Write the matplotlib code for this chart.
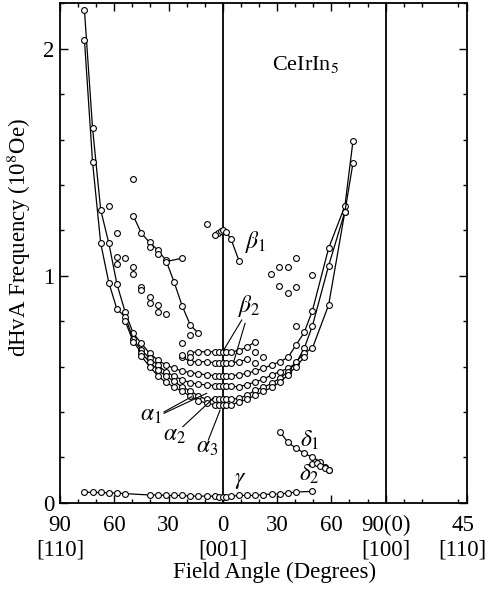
import matplotlib
matplotlib.use("Agg")
import matplotlib.pyplot as plt
from matplotlib.ticker import MultipleLocator, FixedLocator
from matplotlib.transforms import ScaledTranslation

plt.rcParams['font.family'] = ['Liberation Serif', 'DejaVu Serif']
plt.rcParams['mathtext.fontset'] = 'stix'

# ---- data (angle in degrees: [110]=-90 ... [001]=0 ... [100]=90 ... [110]=135) ----
a1a_ang = [-76.5, -72, -67.5, -63, -58.5, -54, -49.5, -45, -40.5, -36, -31.5, -27, -22.5, -18, -13.5, -9, -4.5, -2, 0,
           2, 4.5, 9, 13.5, 18, 22.5, 27, 31.5, 36, 40.5, 45, 49.5, 58.5, 67.5, 72]
a1a_F = [2.17, 1.65, 1.29, 1.143, 0.962, 0.841, 0.746, 0.702, 0.658, 0.629, 0.607, 0.592, 0.58, 0.573, 0.568, 0.563, 0.56, 0.558, 0.558,
         0.558, 0.56, 0.563, 0.57, 0.581, 0.592, 0.607, 0.621, 0.64, 0.695, 0.75, 0.845, 1.121, 1.307, 1.595]

a1b_ang = [-76.5, -72, -67.5, -63, -58.5, -54, -49.5, -45, -40.5, -36, -31.5, -27, -22.5, -18, -13.5, -9, -4.5, -2, 0,
           2, 4.5, 9, 13.5, 18, 22.5, 27, 31.5, 36, 40.5, 45, 49.5, 58.5, 67.5, 72]
a1b_F = [2.04, 1.50, 1.143, 0.969, 0.852, 0.82, 0.72, 0.673, 0.636, 0.607, 0.577, 0.558, 0.541, 0.529, 0.522, 0.519, 0.516, 0.514, 0.514,
         0.514, 0.512, 0.511, 0.52, 0.533, 0.544, 0.563, 0.577, 0.592, 0.614, 0.68, 0.778, 1.044, 1.282, 1.498]

a2_ang = [-54, -49.5, -45, -40.5, -36, -31.5, -27, -22.5, -18, -13.5, -9, -4.5, -2, 0,
          2, 4.5, 9, 13.5, 18, 22.5, 27, 31.5, 36, 40.5, 45, 49.5, 58.5, 67.5]
a2_F = [0.80, 0.71, 0.66, 0.62, 0.585, 0.558, 0.535, 0.51, 0.493, 0.47, 0.455, 0.455, 0.455, 0.455,
        0.455, 0.455, 0.46, 0.474, 0.496, 0.508, 0.526, 0.548, 0.577, 0.62, 0.66, 0.68, 0.871, 1.282]

a3_ang = [-45, -40.5, -36, -31.5, -27, -22.5, -18, -13.5, -9, -4.5, -2, 0,
          2, 4.5, 9, 13.5, 18, 22.5, 27, 31.5, 36, 40.5, 45]
a3_F = [0.645, 0.60, 0.56, 0.53, 0.51, 0.49, 0.47, 0.45, 0.438, 0.432, 0.43, 0.43,
        0.43, 0.43, 0.445, 0.455, 0.474, 0.49, 0.508, 0.53, 0.563, 0.60, 0.64]

b2a_ang = [-18, -13.5, -9, -4.5, -2, 0, 2, 4.5, 9, 13.5, 18]
b2a_F = [0.661, 0.665, 0.665, 0.665, 0.665, 0.665, 0.665, 0.665, 0.67, 0.687, 0.709]

b2b_ang = [-22.5, -18, -13.5, -9, -4.5, -2, 0, 2, 4.5, 9, 13.5]
b2b_F = [0.643, 0.621, 0.621, 0.621, 0.617, 0.614, 0.614, 0.614, 0.617, 0.621, 0.632]

bL_ang = [-49.5, -45, -40.5, -36, -31.5, -27, -22.5, -18, -13.5]
bL_F = [1.264, 1.187, 1.147, 1.113, 1.069, 0.974, 0.868, 0.783, 0.746]

bB_ang = [-31.5, -22.5]
bB_F = [1.062, 1.077]

b1_ang = [-2.5, -1, 0, 1.8, 4.6, 9]
b1_F = [1.19, 1.198, 1.2, 1.194, 1.16, 1.065]

g_ang = [-76.5, -72, -67.5, -63, -58.5, -54, -40.5, -36, -31.5, -27, -22.5, -18, -13.5, -9, -4.5, -2, 0,
         2, 4.5, 9, 13.5, 18, 22.5, 27, 31.5, 36, 40.5, 49.5]
g_F = [0.047, 0.045, 0.045, 0.043, 0.043, 0.04, 0.034, 0.034, 0.032, 0.032, 0.032, 0.029, 0.029, 0.029, 0.029, 0.027, 0.027,
       0.027, 0.029, 0.032, 0.032, 0.032, 0.036, 0.038, 0.038, 0.043, 0.047, 0.05]

d1_ang = [31.5, 36, 40.5, 45, 49.5, 54, 56.5, 58.5]
d1_F = [0.313, 0.266, 0.24, 0.218, 0.2, 0.181, 0.159, 0.145]

d2_ang = [49.5, 52, 54, 56.5, 58.5]
d2_F = [0.169, 0.173, 0.161, 0.151, 0.145]

sc_ang = [-63, -58.5, -58.5, -58.5, -54, -49.5, -49.5, -45, -45, -40.5, -40.5, -36, -36, -31.5, -49.5, -9, -4.3,
          -40.5, -36, -22.5, -18, -22.5, -18,
          26.7, 31.3, 36, 40.6, 31.3, 36, 40.6, 49.4, 40.6, 18, 22.5, 18]
sc_F = [1.308, 1.189, 1.084, 1.05, 1.079, 1.037, 1.007, 0.952, 0.937, 0.907, 0.881, 0.871, 0.839, 0.831, 1.425, 1.228, 1.179,
        1.127, 1.095, 0.705, 0.738, 0.651, 0.64,
        1.007, 1.037, 1.04, 1.079, 0.955, 0.924, 0.952, 1.004, 0.778, 0.665, 0.64, 0.617]

xtick_pos = [-90, -60, -30, 0, 30, 60, 90, 135]
xtick_lab = ['90\n[110]', '60', '30', '0\n[001]', '30', '60', '90(0)\n[100]', '']
last_lab = '45\n[110]'
last_lab_pos = 132.7
ytick_pos = [0, 1, 2]
ytick_lab = ['0', '1', '2']

# ---- figure ----
fig = plt.figure(figsize=(4.89, 5.89), dpi=100)
ax = fig.add_axes([0.1227, 0.1465, 0.955 - 0.1227, 0.9944 - 0.1465])
ax.set_xlim(-90, 135)
ax.set_ylim(0, 2.2)

mk = dict(marker='o', ms=4.2, mfc='white', mec='black', mew=0.8, color='black', lw=0.9)
for xs, ys in [(a1a_ang, a1a_F), (a1b_ang, a1b_F), (a2_ang, a2_F), (a3_ang, a3_F),
               (b2a_ang, b2a_F), (b2b_ang, b2b_F), (bL_ang, bL_F), (bB_ang, bB_F),
               (b1_ang, b1_F), (g_ang, g_F), (d1_ang, d1_F), (d2_ang, d2_F)]:
    ax.plot(xs, ys, **mk)
ax.plot(sc_ang, sc_F, ls='none', marker='o', ms=4.2, mfc='white', mec='black', mew=0.8)

ax.axvline(0, color='black', lw=1.3, zorder=1)
ax.axvline(90, color='black', lw=1.3, zorder=1)

# ticks
TL = 16.5
PAD = 9
LS = 1.2
ax.xaxis.set_major_locator(FixedLocator(xtick_pos))
ax.set_xticklabels(xtick_lab)
ax.xaxis.set_minor_locator(FixedLocator([v for v in range(-80, 135, 10) if v not in (0, 90, -60, -30, 30, 60, 120)]))
ax.yaxis.set_major_locator(FixedLocator(ytick_pos))
ax.set_yticklabels(ytick_lab)
ax.yaxis.set_minor_locator(MultipleLocator(0.2))
ax.tick_params(which='both', direction='in', top=True, right=True, width=1.0, labelsize=TL)
ax.tick_params(which='major', length=5.5)
ax.tick_params(which='minor', length=3)
ax.tick_params(axis='x', pad=PAD)
ax.tick_params(axis='y', pad=4)
for lbl in ax.get_xticklabels():
    lbl.set_linespacing(LS)
for s in ax.spines.values():
    s.set_linewidth(1.3)

off = ScaledTranslation(0, -PAD / 72, fig.dpi_scale_trans)
ax.text(last_lab_pos, 0, last_lab, transform=ax.get_xaxis_transform() + off,
        ha='center', va='top', fontsize=TL, linespacing=LS)

ax.set_xlabel('Field Angle (Degrees)', fontsize=16.5)
ax.xaxis.set_label_coords(0.527, -0.119)
ax.set_ylabel('dHvA Frequency (10$^8$Oe)', fontsize=16.5)
ax.yaxis.set_label_coords(-0.066, 0.532)

# annotations
ax.text(46, 1.93, 'CeIrIn$_5$', fontsize=16, ha='center', va='center')
gk = dict(fontsize=17, ha='center', va='center')
ax.text(18.4, 1.15, r'$\beta_1$', **gk)
ax.text(14.5, 0.866, r'$\beta_2$', **gk)
ax.text(-39.7, 0.386, r'$\alpha_1$', **gk)
ax.text(-27, 0.294, r'$\alpha_2$', **gk)
ax.text(-8.7, 0.245, r'$\alpha_3$', **gk)
ax.text(9.6, 0.1, r'$\gamma$', **gk)
ax.text(47.8, 0.276, r'$\delta_1$', **gk)
ax.text(47.8, 0.127, r'$\delta_2$', **gk)

ll = dict(color='black', lw=0.8)
ax.plot([10.5, 0.3], [0.805, 0.67], **ll)
ax.plot([12.3, 6], [0.79, 0.62], **ll)
ax.plot([-32.5, -17.2], [0.40, 0.467], **ll)
ax.plot([-32.5, -8.9], [0.394, 0.482], **ll)
ax.plot([-22.1, -5.2], [0.335, 0.46], **ll)
ax.plot([-8, -1.5], [0.276, 0.408], **ll)

fig.savefig('out.png', dpi=100)
